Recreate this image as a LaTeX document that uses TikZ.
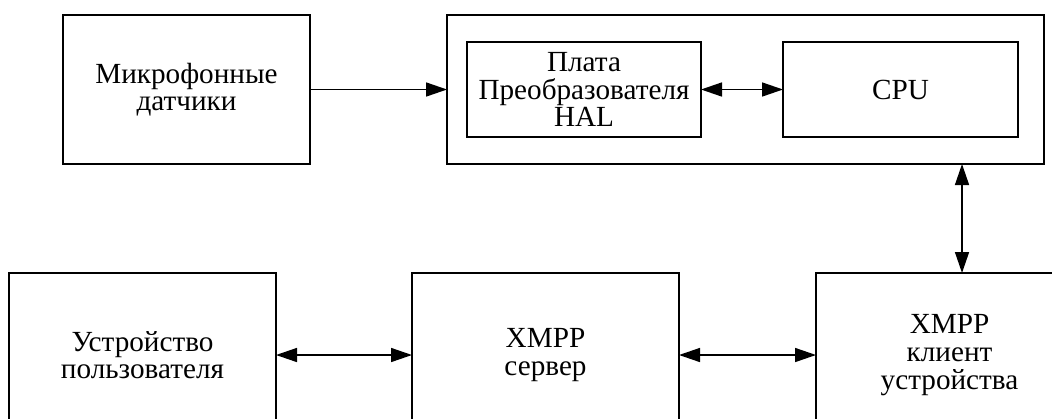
\documentclass[tikz,border=0pt]{standalone}
\usepackage{fontspec}
\setmainfont{Liberation Serif}
\usetikzlibrary{arrows.meta}
\begin{document}
\begin{tikzpicture}[x=0.5pt,y=-0.5pt,
  blk/.style={draw=black,line width=0.8pt,rectangle,inner sep=0pt,outer sep=0pt,
    align=center,font=\fontsize{14.6}{13.8}\selectfont},
  conn/.style={line width=0.75pt,-{Triangle[length=10.5pt,width=7pt]}},
  bconn/.style={line width=0.75pt,{Triangle[length=10.5pt,width=7pt]}-{Triangle[length=10.5pt,width=7pt]}}]
\useasboundingbox (0,0) rectangle (1052,418);
\node[blk,minimum width=123.5pt,minimum height=74.5pt] (mic) at (186.5,89.5) {Микрофонные\\датчики};
\node[blk,minimum width=298.5pt,minimum height=74.5pt] (outer) at (745.5,89.5) {};
\node[blk,minimum width=117pt,minimum height=47.5pt] (hal) at (584,89.5) {Плата\\Преобразователя\\HAL};
\node[blk,minimum width=117.5pt,minimum height=47.5pt] (cpu) at (900.5,89.5) {CPU};
\node[blk,minimum width=133.5pt,minimum height=82pt] (user) at (142.5,355) {Устройство\\пользователя};
\node[blk,minimum width=133.5pt,minimum height=82pt] (server) at (545.5,355) {XMPP\\сервер};
\node[blk,minimum width=133.5pt,minimum height=82pt] (client) at (949.5,355) {XMPP\\клиент\\устройства};
\coordinate (vx) at (962,0);
\draw[conn] (mic.east) -- (outer.west);
\draw[bconn] (hal.east) -- (cpu.west);
\draw[bconn] (outer.south -| vx) -- (client.north -| vx);
\draw[bconn] (user.east) -- (server.west);
\draw[bconn] (server.east) -- (client.west);
\end{tikzpicture}
\end{document}
